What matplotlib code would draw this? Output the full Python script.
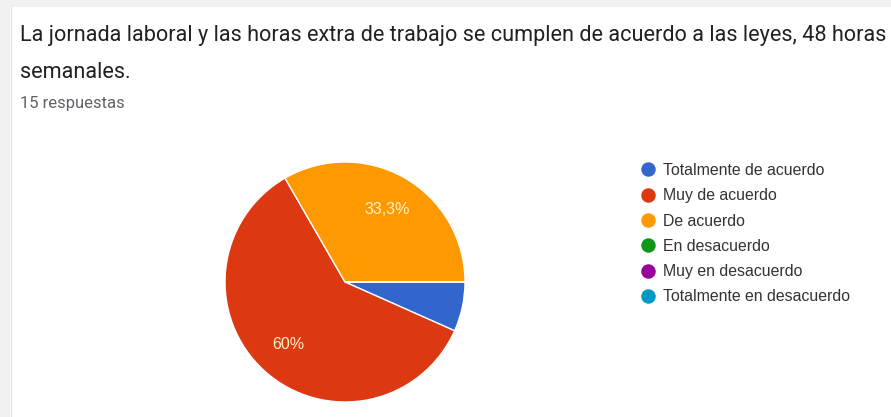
import matplotlib.pyplot as plt
from matplotlib.lines import Line2D
from matplotlib.patches import Rectangle

# responses per option (15 in total)
labels = ['Totalmente de acuerdo', 'Muy de acuerdo', 'De acuerdo',
          'En desacuerdo', 'Muy en desacuerdo', 'Totalmente en desacuerdo']
counts = [1, 9, 5, 0, 0, 0]
colors = ['#3366cc', '#dc3912', '#ff9900', '#109618', '#990099', '#0099c6']

title_lines = ['La jornada laboral y las horas extra de trabajo se cumplen de acuerdo a las leyes, 48 horas',
               'semanales.']
subtitle = '15 respuestas'

W, H = 891, 417
fig = plt.figure(figsize=(W / 100, H / 100), dpi=100)
fig.patch.set_facecolor('white')


def fy(px):
    # pixel row from the top -> figure fraction
    return 1 - px / H


# page background around the card
fig.add_artist(Rectangle((0, 0), 10 / W, 1, transform=fig.transFigure,
                         facecolor='#f1f1f1', edgecolor='none'))
fig.add_artist(Rectangle((0, fy(7)), 1, 7 / H, transform=fig.transFigure,
                         facecolor='#f1f1f1', edgecolor='none'))
fig.add_artist(Line2D([10.5 / W, 10.5 / W], [0, fy(7)], transform=fig.transFigure,
                      color='#e2e2e2', lw=1))

for line, base in zip(title_lines, [41, 78]):
    fig.text(20 / W, fy(base), line, ha='left', va='baseline', fontsize=15.6,
             family='Roboto', color='#202124')
fig.text(20 / W, fy(108), subtitle, ha='left', va='baseline', fontsize=12,
         family='Roboto', color='#5f6368')


def pct_label(p):
    if p < 10:
        return ''
    s = f'{p:.1f}'.rstrip('0').rstrip('.')
    return s.replace('.', ',') + '%'


ax = fig.add_axes([225 / W, 15 / H, 240 / W, 240 / H])
wedges, texts, autotexts = ax.pie(
    counts, colors=colors, startangle=0, counterclock=False,
    autopct=pct_label, pctdistance=0.7,
    wedgeprops=dict(edgecolor='white', linewidth=1))
for t in autotexts:
    t.set_color('#fff0c8')
    t.set_fontsize(11.5)
    t.set_family('Liberation Sans')
ax.set_xlim(-1, 1)
ax.set_ylim(-1, 1)
ax.set_aspect('equal')
ax.axis('off')

handles = [Line2D([], [], marker='o', linestyle='none', markersize=9.4,
                  markerfacecolor=c, markeredgecolor=c) for c in colors]
leg = fig.legend(handles, labels, loc='upper left',
                 bbox_to_anchor=(640 / W, fy(163)), frameon=False,
                 prop={'family': 'Liberation Sans', 'size': 11.4},
                 labelspacing=0.65, handletextpad=0.45, handlelength=1.0,
                 borderpad=0, borderaxespad=0)
for t in leg.get_texts():
    t.set_color('#333333')

fig.savefig('out.png', dpi=100, facecolor=fig.get_facecolor())
